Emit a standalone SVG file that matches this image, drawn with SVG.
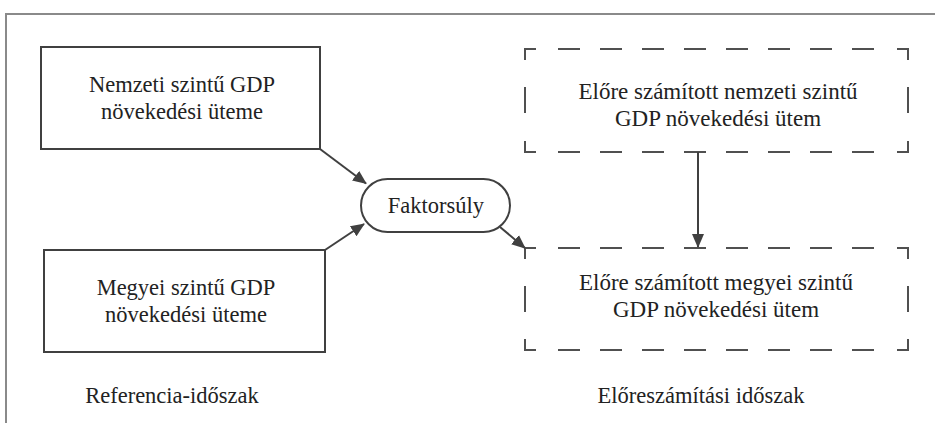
<svg xmlns="http://www.w3.org/2000/svg" width="935" height="423" viewBox="0 0 935 423">
<style>
  .frame{fill:none;stroke:#8a8a8a;stroke-width:2}
  .box{fill:#fff;stroke:#404040;stroke-width:2}
  .pill{fill:#fff;stroke:#404040;stroke-width:2}
  .dash{fill:none;stroke:#505050;stroke-width:2}
  .dl{fill:none;stroke:#505050;stroke-width:2;stroke-dasharray:22 20}
  .conn{fill:none;stroke:#404040;stroke-width:2;marker-end:url(#ah)}
  text{font-family:"Liberation Serif","Times New Roman",serif;font-size:22.5px;fill:#222;text-anchor:middle}
  .big{font-size:23px}
</style>
<defs>
  <marker id="ah" markerUnits="userSpaceOnUse" markerWidth="16" markerHeight="14" refX="13" refY="7" orient="auto">
    <path d="M0,1 L14,7 L0,13 z" fill="#404040"/>
  </marker>
</defs>
<rect width="935" height="423" fill="#fff"/>
<path class="frame" d="M6,423 V14 H935"/>

<g id="nemzeti">
  <rect class="box" x="41" y="47" width="279" height="102"/>
  <text x="182" y="92">Nemzeti szintű GDP</text>
  <text x="182" y="119">növekedési üteme</text>
</g>

<g id="megyei">
  <rect class="box" x="44" y="250" width="281" height="102"/>
  <text x="186" y="295">Megyei szintű GDP</text>
  <text x="186" y="322">növekedési üteme</text>
</g>

<g id="faktorsuly">
  <rect class="pill" x="361" y="179" width="149" height="53" rx="26.5" ry="26.5"/>
  <text x="436" y="213">Faktorsúly</text>
</g>

<g id="elore-nemzeti">
  <path class="dash" d="M525,60 V49 H536 M897,49 H908 V60 M525,141 V152 H536 M897,152 H908 V141 M525,87 V113 M908,87 V113"/>
  <line class="dl" x1="558" y1="49" x2="874" y2="49"/>
  <line class="dl" x1="558" y1="152" x2="874" y2="152"/>
  <text class="big" x="718" y="99">Előre számított nemzeti szintű</text>
  <text class="big" x="718" y="126">GDP növekedési ütem</text>
</g>

<g id="elore-megyei">
  <path class="dash" d="M525,259 V248 H536 M897,248 H908 V259 M525,339 V350 H536 M897,350 H908 V339 M525,286 V312 M908,286 V312"/>
  <line class="dl" x1="558" y1="248" x2="874" y2="248"/>
  <line class="dl" x1="558" y1="350" x2="874" y2="350"/>
  <text class="big" x="716" y="290">Előre számított megyei szintű</text>
  <text class="big" x="716" y="317">GDP növekedési ütem</text>
</g>

<g id="labels">
  <text x="172" y="403">Referencia-időszak</text>
  <text x="701" y="403">Előreszámítási időszak</text>
</g>

<g id="connectors">
  <line class="conn" x1="320" y1="149" x2="366" y2="183.5"/>
  <line class="conn" x1="325" y1="250" x2="364" y2="224"/>
  <line class="conn" x1="500" y1="227" x2="525" y2="248"/>
  <line class="conn" x1="698" y1="152" x2="698" y2="247"/>
</g>
</svg>
